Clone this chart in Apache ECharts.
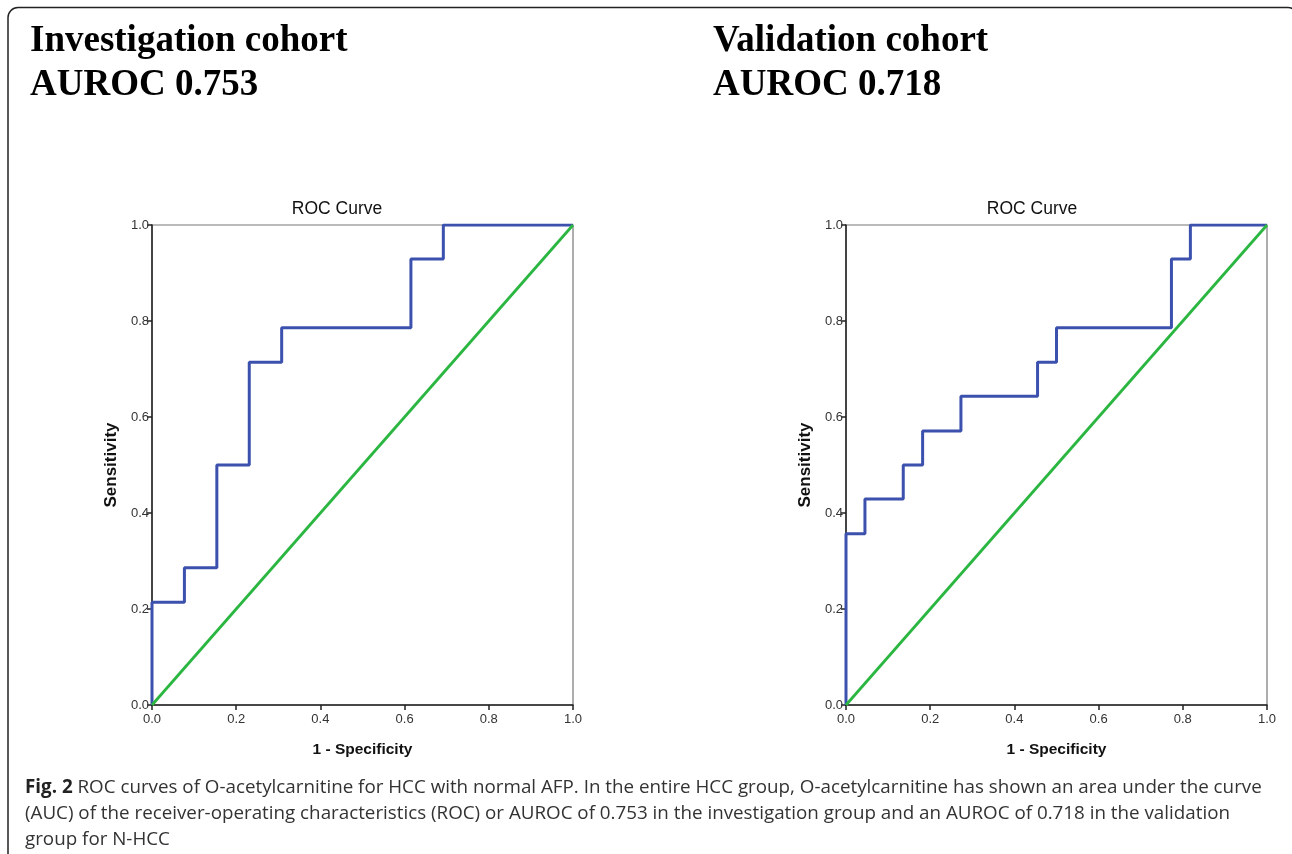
<!DOCTYPE html>
<html>
<head>
<meta charset="utf-8">
<script src="https://cdn.jsdelivr.net/npm/echarts@6/dist/echarts.min.js"></script>
<style>
html,body{margin:0;padding:0;background:#fff;}
#chart{width:1292px;height:854px;}
</style>
</head>
<body>
<div id="chart"></div>
<script>
// Investigation cohort ROC (1 - specificity, sensitivity)
const invFpr = [0, 0, 0.077, 0.077, 0.154, 0.154, 0.231, 0.231, 0.308, 0.308, 0.615, 0.615, 0.692, 0.692, 1.0];
const invTpr = [0, 0.214, 0.214, 0.286, 0.286, 0.5, 0.5, 0.714, 0.714, 0.786, 0.786, 0.929, 0.929, 1.0, 1.0];
// Validation cohort ROC
const valFpr = [0, 0, 0.045, 0.045, 0.136, 0.136, 0.182, 0.182, 0.273, 0.273, 0.455, 0.455, 0.5, 0.5, 0.773, 0.773, 0.818, 0.818, 1.0];
const valTpr = [0, 0.357, 0.357, 0.429, 0.429, 0.5, 0.5, 0.571, 0.571, 0.643, 0.643, 0.714, 0.714, 0.786, 0.786, 0.929, 0.929, 1.0, 1.0];
// Reference diagonal
const refX = [0, 1];
const refY = [0, 1];
const cohortTitles = ['Investigation cohort', 'Validation cohort'];
const aurocLabels = ['AUROC 0.753', 'AUROC 0.718'];
const plotTitle = 'ROC Curve';
const xAxisTitle = '1 - Specificity';
const yAxisTitle = 'Sensitivity';
const captionBold = 'Fig. 2';
const captionLines = [
  ' ROC curves of O-acetylcarnitine for HCC with normal AFP. In the entire HCC group, O-acetylcarnitine has shown an area under the curve',
  '(AUC) of the receiver-operating characteristics (ROC) or AUROC of 0.753 in the investigation group and an AUROC of 0.718 in the validation',
  'group for N-HCC'
];

const zip = (xs, ys) => xs.map((x, i) => [x, ys[i]]);
const chart = echarts.init(document.getElementById('chart'), null, {renderer: 'canvas'});

const grids = [
  {left: 152, top: 225, width: 421, height: 480},
  {left: 846, top: 225, width: 421, height: 480}
];

function xAx(i) {
  return {
    type: 'value', gridIndex: i, min: 0, max: 1, interval: 0.2,
    name: xAxisTitle, nameLocation: 'middle', nameGap: 37,
    nameTextStyle: {fontFamily: 'Liberation Sans', fontWeight: 'bold', fontSize: 15.5, color: '#111'},
    axisLine: {show: true, onZero: false, lineStyle: {color: '#222', width: 1.5}},
    axisTick: {show: true, length: 5, lineStyle: {color: '#222', width: 1.5}},
    axisLabel: {fontFamily: 'Liberation Sans', fontSize: 13, color: '#333', margin: 8,
      formatter: v => v.toFixed(1)},
    splitLine: {show: false}
  };
}
function yAx(i) {
  return {
    type: 'value', gridIndex: i, min: 0, max: 1, interval: 0.2,
    name: yAxisTitle, nameLocation: 'middle', nameGap: 32, nameRotate: 90,
    nameTextStyle: {fontFamily: 'Liberation Sans', fontWeight: 'bold', fontSize: 17, color: '#111'},
    axisLine: {show: true, onZero: false, lineStyle: {color: '#222', width: 1.5}},
    axisTick: {show: true, length: 5, lineStyle: {color: '#222', width: 1.5}},
    axisLabel: {fontFamily: 'Liberation Sans', fontSize: 13, color: '#333', margin: 3,
      formatter: v => v.toFixed(1)},
    splitLine: {show: false}
  };
}

const blue = '#3b51ad';
const green = '#2bb641';

const option = {
  backgroundColor: '#fff',
  animation: false,
  title: [
    {text: cohortTitles[0] + '\n' + aurocLabels[0], left: 25, top: 14,
      textStyle: {fontFamily: 'Liberation Serif', fontWeight: 'bold', fontSize: 37, lineHeight: 44, color: '#000'}},
    {text: cohortTitles[1] + '\n' + aurocLabels[1], left: 708, top: 14,
      textStyle: {fontFamily: 'Liberation Serif', fontWeight: 'bold', fontSize: 37, lineHeight: 44, color: '#000'}},
    {text: plotTitle, left: 332, top: 195, textAlign: 'center',
      textStyle: {fontFamily: 'Liberation Sans', fontWeight: 'normal', fontSize: 17.5, color: '#111'}},
    {text: plotTitle, left: 1027, top: 195, textAlign: 'center',
      textStyle: {fontFamily: 'Liberation Sans', fontWeight: 'normal', fontSize: 17.5, color: '#111'}}
  ],
  grid: grids.map(g => Object.assign({show: true, borderColor: '#777', borderWidth: 1.2, backgroundColor: '#fff'}, g)),
  xAxis: [xAx(0), xAx(1)],
  yAxis: [yAx(0), yAx(1)],
  series: [
    {type: 'line', xAxisIndex: 0, yAxisIndex: 0, data: zip(refX, refY), showSymbol: false,
      lineStyle: {color: green, width: 2.8}, z: 3},
    {type: 'line', xAxisIndex: 0, yAxisIndex: 0, data: zip(invFpr, invTpr), showSymbol: false,
      lineStyle: {color: blue, width: 3}, z: 2},
    {type: 'line', xAxisIndex: 1, yAxisIndex: 1, data: zip(refX, refY), showSymbol: false,
      lineStyle: {color: green, width: 2.8}, z: 3},
    {type: 'line', xAxisIndex: 1, yAxisIndex: 1, data: zip(valFpr, valTpr), showSymbol: false,
      lineStyle: {color: blue, width: 3}, z: 2}
  ],
  graphic: [
    {type: 'rect', shape: {x: 8, y: 7.5, width: 1290, height: 900, r: 10},
      style: {fill: 'none', stroke: '#222', lineWidth: 1.5}, silent: true, z: -1},
    {type: 'text', left: 25, top: 778,
      style: {
        text: '{b|' + captionBold + '}{n|' + captionLines[0] + '}\n{n|' + captionLines[1] + '}\n{n|' + captionLines[2] + '}',
        rich: {
          b: {fontFamily: 'Open Sans', fontWeight: 'bold', fontSize: 18.8, lineHeight: 26, fill: '#222'},
          n: {fontFamily: 'Open Sans', fontWeight: 'normal', fontSize: 18.8, lineHeight: 26, fill: '#333'}
        }
      }}
  ]
};
chart.setOption(option);
</script>
</body>
</html>
